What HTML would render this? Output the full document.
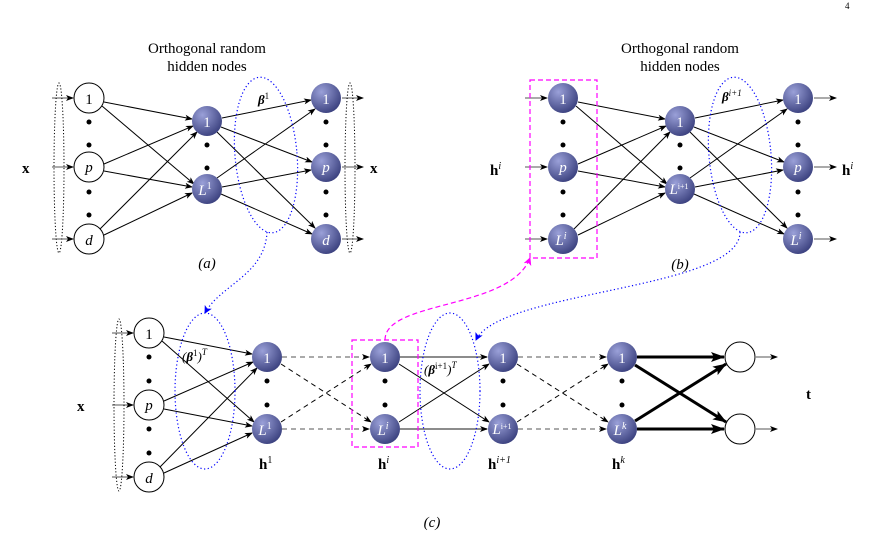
<!DOCTYPE html>
<html><head><meta charset="utf-8"><style>
body{margin:0;background:#fff}
svg{display:block}
text{font-family:"Liberation Serif",serif;fill:#000}
.nl{fill:#fff;font-size:15px;text-anchor:middle;font-style:italic}
.nn{fill:#fff;font-size:15px;text-anchor:middle}
.bl{fill:#000;font-size:15px;text-anchor:middle}
</style></head><body>
<svg width="883" height="540" viewBox="0 0 883 540" xmlns="http://www.w3.org/2000/svg">
<defs>
<radialGradient id="g" cx="0.35" cy="0.3" r="0.8">
<stop offset="0" stop-color="#9aa0d8"/><stop offset="1" stop-color="#343a78"/></radialGradient>
<marker id="a" markerWidth="8" markerHeight="6" refX="7" refY="3" orient="auto" markerUnits="userSpaceOnUse"><path d="M0,0 L8,3 L0,6 L2,3z" fill="#000"/></marker>
<marker id="ab" markerWidth="8" markerHeight="8" refX="7" refY="4" orient="auto" markerUnits="userSpaceOnUse"><path d="M0,0 L8,4 L0,8 L2,4z" fill="#00f"/></marker>
<marker id="am" markerWidth="8" markerHeight="8" refX="7" refY="4" orient="auto" markerUnits="userSpaceOnUse"><path d="M0,0 L8,4 L0,8 L2,4z" fill="#f0f"/></marker>
<marker id="at" markerWidth="14" markerHeight="10" refX="13" refY="5" orient="auto" markerUnits="userSpaceOnUse"><path d="M0,0 L14,5 L0,10 L3,5z" fill="#000"/></marker>
</defs>
<text x="845" y="9" font-size="9">4</text>

<!-- ===== (a) ===== -->
<text x="207" y="53" class="bl">Orthogonal random</text>
<text x="207" y="71" class="bl">hidden nodes</text>
<g stroke="#000" stroke-width="1" fill="none" marker-end="url(#a)">
<line x1="104" y1="102" x2="192" y2="119"/><line x1="102" y1="106" x2="194" y2="184"/>
<line x1="104" y1="164" x2="193" y2="126"/><line x1="104" y1="171" x2="192" y2="187"/>
<line x1="100" y1="229" x2="197" y2="132"/><line x1="104" y1="235" x2="192" y2="193"/>
<line x1="222" y1="118" x2="311" y2="100"/><line x1="221" y1="127" x2="312" y2="162"/><line x1="217" y1="132" x2="315" y2="228"/>
<line x1="217" y1="178" x2="315" y2="109"/><line x1="222" y1="187" x2="311" y2="170"/><line x1="221" y1="194" x2="312" y2="234"/>
<line x1="52" y1="98" x2="73" y2="98" stroke="#555"/><line x1="52" y1="167" x2="73" y2="167" stroke="#555"/><line x1="52" y1="239" x2="73" y2="239" stroke="#555"/>
<line x1="342" y1="98" x2="363" y2="98" stroke="#555"/><line x1="342" y1="167" x2="363" y2="167" stroke="#555"/><line x1="342" y1="239" x2="363" y2="239" stroke="#555"/>
</g>
<ellipse cx="59" cy="168" rx="5" ry="85" fill="none" stroke="#000" stroke-dasharray="1.2,2"/>
<ellipse cx="350" cy="168" rx="5" ry="85" fill="none" stroke="#000" stroke-dasharray="1.2,2"/>
<ellipse cx="266" cy="155" rx="31" ry="78" fill="none" stroke="#00f" stroke-width="1.2" stroke-dasharray="1.2,2.5" transform="rotate(-5 266 155)"/>
<g fill="#fff" stroke="#000"><circle cx="89" cy="98" r="15"/><circle cx="89" cy="167" r="15"/><circle cx="89" cy="239" r="15"/></g>
<text x="89" y="104" class="bl">1</text><text x="89" y="172" class="bl" font-style="italic">p</text><text x="89" y="245" class="bl" font-style="italic">d</text>
<g fill="url(#g)"><circle cx="207" cy="121" r="15"/><circle cx="207" cy="189" r="15"/><circle cx="326" cy="98" r="15"/><circle cx="326" cy="167" r="15"/><circle cx="326" cy="239" r="15"/></g>
<text x="207" y="127" class="nn">1</text><text x="205" y="195" class="nl">L<tspan font-size="10" dy="-6" font-style="normal">1</tspan></text>
<text x="326" y="104" class="nn">1</text><text x="326" y="172" class="nl">p</text><text x="326" y="245" class="nl">d</text>
<g fill="#000"><circle cx="89" cy="122" r="2.5"/><circle cx="89" cy="145" r="2.5"/><circle cx="89" cy="192" r="2.5"/><circle cx="89" cy="215" r="2.5"/>
<circle cx="207" cy="145" r="2.5"/><circle cx="207" cy="168" r="2.5"/>
<circle cx="326" cy="122" r="2.5"/><circle cx="326" cy="145" r="2.5"/><circle cx="326" cy="192" r="2.5"/><circle cx="326" cy="215" r="2.5"/></g>
<text x="22" y="173" font-size="15" font-weight="bold">x</text><text x="370" y="173" font-size="15" font-weight="bold">x</text>
<text x="258" y="104" font-size="13" font-weight="bold" font-style="italic">β<tspan font-size="9" dy="-5" font-weight="normal" font-style="normal">1</tspan></text>
<text x="207" y="268" class="bl" font-style="italic">(a)</text>

<!-- ===== (b) ===== -->
<text x="680" y="53" class="bl">Orthogonal random</text>
<text x="680" y="71" class="bl">hidden nodes</text>
<g stroke="#000" stroke-width="1" fill="none" marker-end="url(#a)">
<line x1="578" y1="102" x2="665" y2="119"/><line x1="576" y1="106" x2="667" y2="184"/>
<line x1="578" y1="164" x2="666" y2="126"/><line x1="578" y1="171" x2="665" y2="187"/>
<line x1="574" y1="229" x2="670" y2="132"/><line x1="578" y1="235" x2="665" y2="193"/>
<line x1="695" y1="118" x2="783" y2="100"/><line x1="694" y1="127" x2="784" y2="162"/><line x1="690" y1="132" x2="787" y2="228"/>
<line x1="690" y1="178" x2="787" y2="109"/><line x1="695" y1="187" x2="783" y2="170"/><line x1="694" y1="194" x2="784" y2="234"/>
<line x1="525" y1="98" x2="547" y2="98" stroke="#555"/><line x1="525" y1="167" x2="547" y2="167" stroke="#555"/><line x1="525" y1="239" x2="547" y2="239" stroke="#555"/>
<line x1="814" y1="98" x2="836" y2="98" stroke="#555"/><line x1="814" y1="167" x2="836" y2="167" stroke="#555"/><line x1="814" y1="239" x2="836" y2="239" stroke="#555"/>
</g>
<rect x="530" y="80" width="67" height="178" fill="none" stroke="#f0f" stroke-width="1.2" stroke-dasharray="5,3"/>
<ellipse cx="740" cy="155" rx="31" ry="78" fill="none" stroke="#00f" stroke-width="1.2" stroke-dasharray="1.2,2.5" transform="rotate(-5 740 155)"/>
<g fill="url(#g)"><circle cx="563" cy="98" r="15"/><circle cx="563" cy="167" r="15"/><circle cx="563" cy="239" r="15"/>
<circle cx="680" cy="121" r="15"/><circle cx="680" cy="189" r="15"/><circle cx="798" cy="98" r="15"/><circle cx="798" cy="167" r="15"/><circle cx="798" cy="239" r="15"/></g>
<text x="563" y="104" class="nn">1</text><text x="563" y="172" class="nl">p</text><text x="561" y="245" class="nl">L<tspan font-size="10" dy="-6">i</tspan></text>
<text x="680" y="127" class="nn">1</text><text x="679" y="194" class="nl" font-size="11">L<tspan font-size="8" dy="-5" font-style="normal">i+1</tspan></text>
<text x="798" y="104" class="nn">1</text><text x="798" y="172" class="nl">p</text><text x="796" y="245" class="nl">L<tspan font-size="10" dy="-6">i</tspan></text>
<g fill="#000"><circle cx="563" cy="122" r="2.5"/><circle cx="563" cy="145" r="2.5"/><circle cx="563" cy="192" r="2.5"/><circle cx="563" cy="215" r="2.5"/>
<circle cx="680" cy="145" r="2.5"/><circle cx="680" cy="168" r="2.5"/>
<circle cx="798" cy="122" r="2.5"/><circle cx="798" cy="145" r="2.5"/><circle cx="798" cy="192" r="2.5"/><circle cx="798" cy="215" r="2.5"/></g>
<text x="490" y="175" font-size="15" font-weight="bold">h<tspan font-size="10" dy="-6" font-weight="normal" font-style="italic">i</tspan></text>
<text x="842" y="175" font-size="15" font-weight="bold">h<tspan font-size="10" dy="-6" font-weight="normal" font-style="italic">i</tspan></text>
<text x="722" y="101" font-size="13" font-weight="bold" font-style="italic">β<tspan font-size="9" dy="-5" font-weight="normal">i+1</tspan></text>
<text x="680" y="269" class="bl" font-style="italic">(b)</text>

<!-- connectors between parts -->
<path d="M267,232 C265,275 220,285 205,313" fill="none" stroke="#00f" stroke-width="1.2" stroke-dasharray="1.2,2.5" marker-end="url(#ab)"/>
<path d="M740,232 C740,290 500,290 476,340" fill="none" stroke="#00f" stroke-width="1.2" stroke-dasharray="1.2,2.5" marker-end="url(#ab)"/>
<path d="M385,340 C385,300 510,310 530,258" fill="none" stroke="#f0f" stroke-width="1.2" stroke-dasharray="5,3" marker-end="url(#am)"/>

<!-- ===== (c) ===== -->
<g stroke="#000" stroke-width="1" fill="none" marker-end="url(#a)">
<line x1="164" y1="337" x2="252" y2="354"/><line x1="162" y1="341" x2="254" y2="422"/>
<line x1="164" y1="401" x2="253" y2="362"/><line x1="164" y1="409" x2="252" y2="426"/>
<line x1="160" y1="467" x2="257" y2="368"/><line x1="164" y1="473" x2="252" y2="433"/>
<line x1="112" y1="333" x2="133" y2="333" stroke="#555"/><line x1="112" y1="405" x2="133" y2="405" stroke="#555"/><line x1="112" y1="477" x2="133" y2="477" stroke="#555"/>
<g stroke-dasharray="5,4">
<line x1="282" y1="357" x2="369" y2="357" stroke="#555"/><line x1="282" y1="429" x2="369" y2="429" stroke="#555"/>
<line x1="281" y1="364" x2="371" y2="422"/><line x1="281" y1="422" x2="371" y2="364"/>
<line x1="518" y1="357" x2="606" y2="357" stroke="#555"/><line x1="518" y1="429" x2="606" y2="429" stroke="#555"/>
<line x1="517" y1="364" x2="608" y2="422"/><line x1="517" y1="422" x2="608" y2="364"/>
</g>
<line x1="400" y1="357" x2="487" y2="357" stroke="#666" stroke-width="1.6"/><line x1="400" y1="429" x2="487" y2="429" stroke="#666" stroke-width="1.6"/>
<line x1="399" y1="364" x2="489" y2="422"/><line x1="399" y1="422" x2="489" y2="364"/>
<line x1="756" y1="357" x2="777" y2="357" stroke="#555"/><line x1="756" y1="429" x2="777" y2="429" stroke="#555"/>
</g>
<g stroke="#000" stroke-width="3" fill="none" marker-end="url(#at)">
<line x1="637" y1="357" x2="724" y2="357"/><line x1="637" y1="429" x2="724" y2="429"/>
<line x1="635" y1="365" x2="726" y2="422"/><line x1="635" y1="421" x2="726" y2="364"/>
</g>
<ellipse cx="119" cy="405" rx="5" ry="86" fill="none" stroke="#000" stroke-dasharray="1.2,2"/>
<ellipse cx="205" cy="391" rx="30" ry="78" fill="none" stroke="#00f" stroke-width="1.2" stroke-dasharray="1.2,2.5"/>
<ellipse cx="450" cy="391" rx="30" ry="78" fill="none" stroke="#00f" stroke-width="1.2" stroke-dasharray="1.2,2.5"/>
<rect x="352" y="340" width="66" height="107" fill="none" stroke="#f0f" stroke-width="1.2" stroke-dasharray="5,3"/>
<g fill="#fff" stroke="#000"><circle cx="149" cy="333" r="15"/><circle cx="149" cy="405" r="15"/><circle cx="149" cy="477" r="15"/>
<circle cx="740" cy="357" r="15"/><circle cx="740" cy="429" r="15"/></g>
<text x="149" y="339" class="bl">1</text><text x="149" y="410" class="bl" font-style="italic">p</text><text x="149" y="483" class="bl" font-style="italic">d</text>
<g fill="url(#g)"><circle cx="267" cy="357" r="15"/><circle cx="267" cy="429" r="15"/><circle cx="385" cy="357" r="15"/><circle cx="385" cy="429" r="15"/>
<circle cx="503" cy="357" r="15"/><circle cx="503" cy="429" r="15"/><circle cx="622" cy="357" r="15"/><circle cx="622" cy="429" r="15"/></g>
<text x="267" y="363" class="nn">1</text><text x="265" y="435" class="nl">L<tspan font-size="10" dy="-6" font-style="normal">1</tspan></text>
<text x="385" y="363" class="nn">1</text><text x="383" y="435" class="nl">L<tspan font-size="10" dy="-6">i</tspan></text>
<text x="503" y="363" class="nn">1</text><text x="502" y="434" class="nl" font-size="11">L<tspan font-size="8" dy="-5" font-style="normal">i+1</tspan></text>
<text x="622" y="363" class="nn">1</text><text x="620" y="435" class="nl">L<tspan font-size="10" dy="-6">k</tspan></text>
<g fill="#000"><circle cx="149" cy="357" r="2.5"/><circle cx="149" cy="381" r="2.5"/><circle cx="149" cy="429" r="2.5"/><circle cx="149" cy="453" r="2.5"/>
<circle cx="267" cy="381" r="2.5"/><circle cx="267" cy="405" r="2.5"/><circle cx="385" cy="381" r="2.5"/><circle cx="385" cy="405" r="2.5"/>
<circle cx="503" cy="381" r="2.5"/><circle cx="503" cy="405" r="2.5"/><circle cx="622" cy="381" r="2.5"/><circle cx="622" cy="405" r="2.5"/></g>
<text x="77" y="411" font-size="15" font-weight="bold">x</text>
<text x="806" y="399" font-size="15" font-weight="bold">t</text>
<text x="182" y="361" font-size="13" font-style="italic">(<tspan font-weight="bold">β</tspan><tspan font-size="9" dy="-5" font-style="normal">1</tspan><tspan dy="5">)</tspan><tspan font-size="9" dy="-6">T</tspan></text>
<text x="424" y="374" font-size="13" font-style="italic">(<tspan font-weight="bold">β</tspan><tspan font-size="9" dy="-5" font-style="normal">i+1</tspan><tspan dy="5">)</tspan><tspan font-size="9" dy="-6">T</tspan></text>
<text x="259" y="469" font-size="15" font-weight="bold">h<tspan font-size="10" dy="-6" font-weight="normal">1</tspan></text>
<text x="378" y="469" font-size="15" font-weight="bold">h<tspan font-size="10" dy="-6" font-weight="normal" font-style="italic">i</tspan></text>
<text x="488" y="469" font-size="15" font-weight="bold">h<tspan font-size="10" dy="-6" font-weight="normal" font-style="italic">i+1</tspan></text>
<text x="612" y="469" font-size="15" font-weight="bold">h<tspan font-size="10" dy="-6" font-weight="normal" font-style="italic">k</tspan></text>
<text x="432" y="527" class="bl" font-style="italic">(c)</text>
</svg>
</body></html>
